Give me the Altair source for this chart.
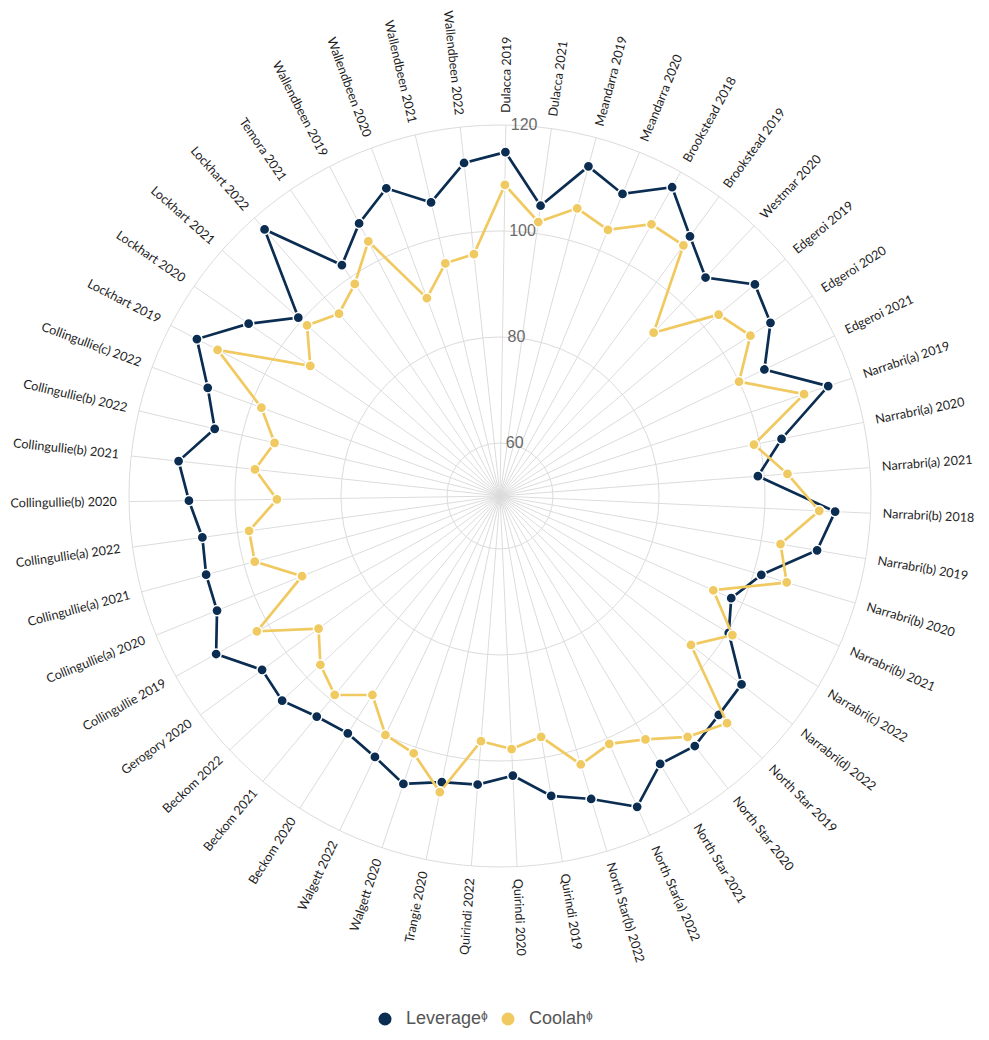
import altair as alt
import pandas as pd

categories = [
    "Dulacca 2019", "Dulacca 2021", "Meandarra 2019", "Meandarra 2020",
    "Brookstead 2018", "Brookstead 2019", "Westmar 2020", "Edgeroi 2019",
    "Edgeroi 2020", "Edgeroi 2021", "Narrabri(a) 2019", "Narrabri(a) 2020",
    "Narrabri(a) 2021", "Narrabri(b) 2018", "Narrabri(b) 2019", "Narrabri(b) 2020",
    "Narrabri(b) 2021", "Narrabri(c) 2022", "Narrabri(d) 2022", "North Star 2019",
    "North Star 2020", "North Star 2021", "North Star(a) 2022", "North Star(b) 2022",
    "Quirindi 2019", "Quirindi 2020", "Quirindi 2022", "Trangie 2020",
    "Walgett 2020", "Walgett 2022", "Beckom 2020", "Beckom 2021", "Beckom 2022",
    "Gerogory 2020", "Collingullie 2019", "Collingullie(a) 2020",
    "Collingullie(a) 2021", "Collingullie(a) 2022", "Collingullie(b) 2020",
    "Collingullie(b) 2021", "Collingullie(b) 2022", "Collingullie(c) 2022",
    "Lockhart 2019", "Lockhart 2020", "Lockhart 2021", "Lockhart 2022",
    "Temora 2021", "Wallendbeen 2019", "Wallendbeen 2020", "Wallendbeen 2021",
    "Wallendbeen 2022",
]

leverage = [
    114.9, 105.3, 114.4, 111.5, 116.7, 110.7, 106.6, 112.5, 110.6, 105.3,
    115.3, 104.2, 98.8, 113.3, 110.7, 101.5, 97.7, 100.3, 107.8, 108.4,
    109.8, 108.9, 114.1, 109.7, 107.4, 102.8, 104.6, 105.1, 107.3, 104.6,
    103.2, 104.1, 106.4, 105.6, 111.3, 107.6, 107.4, 106.7, 108.7, 111.0,
    105.3, 108.8, 114.4, 107.5, 100.8, 117.1, 102.8, 107.9, 111.9, 106.9,
    113.2,
]

coolah = [
    108.7, 102.2, 106.2, 104.2, 108.7, 108.6, 92.3, 103.6, 106.1, 100.0,
    110.5, 98.9, 104.4, 110.3, 103.7, 106.5, 94.0, 101.1, 95.7, 110.6,
    107.6, 103.5, 101.1, 102.9, 96.1, 97.8, 96.4, 107.0, 101.2, 100.0,
    94.6, 98.8, 96.5, 92.4, 102.5, 90.3, 97.9, 97.8, 92.1, 96.5,
    93.7, 98.0, 110.0, 93.4, 98.6, 95.9, 98.5, 104.1, 89.8, 95.1,
    95.9,
]

radial_ticks = [60, 80, 100, 120]
series_names = ["Leverageᶲ", "Coolahᶲ"]
series_colors = ["#0b2d52", "#f0c960"]

N = len(categories)
R_MIN, R_MAX = 50, 120
SPAN = R_MAX - R_MIN
OFFSET = 0.9          # rotation of the first spoke, degrees
LABEL_R = 72.3        # radial position of category labels (value units above R_MIN)
SIDE = 742

cat_df = pd.DataFrame({"idx": list(range(N)), "cat": categories})
long_df = pd.DataFrame({
    "idx": list(range(N)) * 2,
    "cat": categories * 2,
    "series": [series_names[0]] * N + [series_names[1]] * N,
    "value": leverage + coolah,
})
tick_df = pd.DataFrame({"v": radial_ticks, "lbl": [str(t) for t in radial_ticks]})

xs = alt.Scale(domain=[-SPAN, SPAN], nice=False, zero=False)
ys = alt.Scale(domain=[-SPAN, SPAN], nice=False, zero=False)
deg_expr = f"datum.idx * 360 / {N} + {OFFSET}"

# grid rings
rings = alt.Chart(tick_df).mark_arc(
    theta=0, theta2=6.2832, fillOpacity=0, stroke="#dcdcdc", strokeWidth=1
).encode(
    radius=alt.Radius("v:Q", stack=None,
                      scale=alt.Scale(type="linear", domain=[R_MIN, R_MAX],
                                      range=[0, SIDE / 2], zero=False))
)

# spokes
spokes = alt.Chart(cat_df).transform_calculate(
    deg=deg_expr
).transform_calculate(
    x0="0", y0="0",
    xe=f"{SPAN} * sin(datum.deg * PI / 180)",
    ye=f"{SPAN} * cos(datum.deg * PI / 180)",
).mark_rule(color="#dcdcdc", strokeWidth=1).encode(
    x=alt.X("x0:Q", scale=xs, axis=None),
    y=alt.Y("y0:Q", scale=ys, axis=None),
    x2="xe:Q",
    y2="ye:Q",
)

# radial tick labels
ticks = alt.Chart(tick_df).transform_calculate(
    tx=f"(datum.v - {R_MIN}) * sin({OFFSET} * PI / 180)",
    ty=f"(datum.v - {R_MIN}) * cos({OFFSET} * PI / 180)",
).mark_text(
    align="left", baseline="middle", dx=5, font="Liberation Sans",
    fontSize=16, color="#6a6a6a"
).encode(
    x=alt.X("tx:Q", scale=xs, axis=None),
    y=alt.Y("ty:Q", scale=ys, axis=None),
    text="lbl:N",
)

base = alt.Chart(long_df).transform_calculate(
    deg=deg_expr
).transform_calculate(
    r=f"datum.value - {R_MIN}"
).transform_calculate(
    px="datum.r * sin(datum.deg * PI / 180)",
    py="datum.r * cos(datum.deg * PI / 180)",
)

color_scale = alt.Scale(domain=series_names, range=series_colors)

legend = alt.Legend(
    orient="none", legendX=247, legendY=885, direction="horizontal",
    title=None, symbolType="circle", symbolSize=170, symbolStrokeWidth=0,
    labelFont="Liberation Sans", labelFontSize=18, labelColor="#555555",
    labelOffset=12, columnPadding=11, padding=0,
)


def series_layers(i):
    name = series_names[i]
    b = base.transform_filter(alt.datum.series == name)
    line = b.mark_line(
        interpolate="linear-closed", strokeWidth=2.7, color=series_colors[i]
    ).encode(
        x=alt.X("px:Q", scale=xs, axis=None),
        y=alt.Y("py:Q", scale=ys, axis=None),
        order="idx:Q",
    )
    pts = b.mark_point(
        filled=True, size=105, stroke="white", strokeWidth=1.5, opacity=1
    ).encode(
        x=alt.X("px:Q", scale=xs, axis=None),
        y=alt.Y("py:Q", scale=ys, axis=None),
        color=alt.Color("series:N", scale=color_scale, legend=legend),
    )
    return [line, pts]


lab_base = alt.Chart(cat_df).transform_calculate(
    deg=deg_expr
).transform_calculate(
    lx=f"{LABEL_R} * sin(datum.deg * PI / 180)",
    ly=f"{LABEL_R} * cos(datum.deg * PI / 180)",
    ang_r="(datum.deg + 270) % 360",
    ang_l="(datum.deg + 90) % 360",
)

labels_right = lab_base.transform_filter("datum.deg <= 180").mark_text(
    align="left", baseline="middle", font="Lato", fontSize=12.6, color="#1e1e1e"
).encode(
    x=alt.X("lx:Q", scale=xs, axis=None),
    y=alt.Y("ly:Q", scale=ys, axis=None),
    text="cat:N",
    angle=alt.Angle("ang_r:Q", scale=None),
)

labels_left = lab_base.transform_filter("datum.deg > 180").mark_text(
    align="right", baseline="middle", font="Lato", fontSize=12.6, color="#1e1e1e"
).encode(
    x=alt.X("lx:Q", scale=xs, axis=None),
    y=alt.Y("ly:Q", scale=ys, axis=None),
    text="cat:N",
    angle=alt.Angle("ang_l:Q", scale=None),
)

chart = alt.layer(
    rings, spokes, ticks,
    *series_layers(0),
    *series_layers(1),
    labels_right, labels_left,
).properties(
    width=SIDE, height=SIDE,
    padding={"left": 121, "top": 117, "right": 108, "bottom": 163},
    autosize=alt.AutoSizeParams(type="none"),
    background="white",
).configure_view(strokeWidth=0)

chart.save("out.html", embed_options={"renderer": "svg", "actions": False})
